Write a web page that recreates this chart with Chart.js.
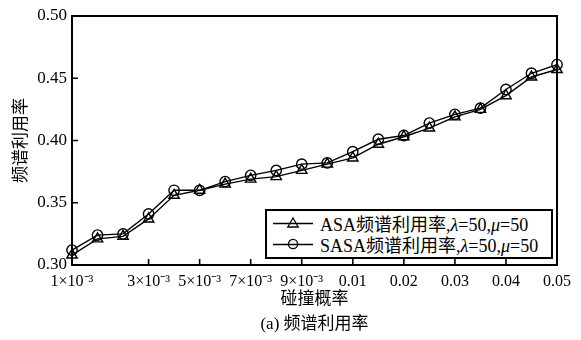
<!DOCTYPE html>
<html>
<head>
<meta charset="utf-8">
<script src="https://cdn.jsdelivr.net/npm/chart.js@4/dist/chart.umd.min.js"></script>
<style>
  html, body { margin: 0; padding: 0; background: #fff; }
  #wrap { position: relative; width: 581px; height: 340px; background: #fff; }
  #legend {
    position: absolute; left: 265px; top: 209px; width: 288px; height: 50px;
    box-sizing: border-box; border: 2px solid #000; background: #fff;
    padding-top: 1px;
    font-family: 'Liberation Serif', 'Noto Sans CJK SC', serif; font-size: 18px; color: #000;
  }
  #legend .row { display: flex; align-items: center; height: 21px; white-space: nowrap; }
  #legend svg { margin-left: 6px; margin-right: 7px; flex: none; }
</style>
</head>
<body>
<div id="wrap">
  <canvas id="c" width="581" height="340"></canvas>
  <div id="legend"></div>
</div>
<script>
// collision probability (category values along the x axis)
const collisionProb = ['0.001','0.0015','0.002','0.003','0.004','0.005','0.006','0.007','0.008','0.009',
                       '0.0095','0.01','0.015','0.02','0.025','0.03','0.035','0.04','0.045','0.05'];
// labels printed under the axis ('' = no label, no tick mark)
const xTickLabels = ['1×10⁻³','','','3×10⁻³','','5×10⁻³','','7×10⁻³','','9×10⁻³',
                     '','0.01','','0.02','','0.03','','0.04','','0.05'];
// spectrum utilisation of each scheme
const asaUtil  = [0.308,0.321,0.323,0.337,0.356,0.360,0.365,0.369,0.371,0.376,
                  0.381,0.386,0.397,0.403,0.410,0.419,0.425,0.436,0.451,0.457];
const sasaUtil = [0.312,0.324,0.325,0.341,0.360,0.360,0.367,0.372,0.376,0.381,
                  0.382,0.391,0.401,0.404,0.414,0.421,0.426,0.441,0.454,0.461];
const yTicks = [0.30, 0.35, 0.40, 0.45, 0.50];

const seriesNames = ['ASA频谱利用率', 'SASA频谱利用率'];
const FONT = "'Liberation Serif', 'Noto Sans CJK SC', serif";

// frame around the plot plus inward-pointing tick marks
const framePlugin = {
  id: 'frame',
  afterDatasetsDraw(chart) {
    const { ctx, chartArea: a, scales: { x, y } } = chart;
    ctx.save();
    ctx.strokeStyle = '#000';
    ctx.lineWidth = 1.6;
    ctx.beginPath();
    xTickLabels.forEach((lab, i) => {
      if (!lab) return;
      const px = x.getPixelForValue(i);
      ctx.moveTo(px, a.bottom);
      ctx.lineTo(px, a.bottom - 6);
    });
    yTicks.forEach(v => {
      const py = y.getPixelForValue(v);
      ctx.moveTo(a.left, py);
      ctx.lineTo(a.left + 6, py);
    });
    ctx.stroke();
    ctx.lineWidth = 2;
    ctx.strokeRect(a.left, a.top, a.right - a.left, a.bottom - a.top);
    ctx.restore();
  }
};

const common = {
  borderColor: '#000', borderWidth: 1.4,
  pointBorderColor: '#000', pointBackgroundColor: 'rgba(0,0,0,0)',
  pointBorderWidth: 1.4, tension: 0, clip: false
};

new Chart(document.getElementById('c'), {
  type: 'line',
  data: {
    labels: collisionProb,
    datasets: [
      Object.assign({ label: seriesNames[0], data: asaUtil, pointStyle: 'triangle', pointRadius: 6 }, common),
      Object.assign({ label: seriesNames[1], data: sasaUtil, pointStyle: 'circle', pointRadius: 5.2 }, common)
    ]
  },
  options: {
    responsive: false,
    animation: false,
    events: [],
    layout: { padding: { top: 16, right: 24, left: 0, bottom: 0 } },
    plugins: {
      legend: { display: false },
      tooltip: { enabled: false },
      title: {
        display: true, position: 'bottom', fullSize: false,
        text: '(a) 频谱利用率', color: '#000',
        font: { family: FONT, size: 17, weight: 'normal', lineHeight: 1.2 },
        padding: { top: 0, bottom: 5 }
      }
    },
    scales: {
      x: {
        type: 'category',
        offset: false,
        grid: { display: false, drawTicks: false },
        border: { display: false },
        ticks: {
          autoSkip: false, maxRotation: 0, minRotation: 0, padding: 7,
          color: '#000', font: { family: FONT, size: 16 },
          callback: (v, i) => xTickLabels[i]
        },
        title: {
          display: true, text: '碰撞概率', color: '#000',
          font: { family: FONT, size: 17, lineHeight: 1.2 },
          padding: { top: 0, bottom: 4.5 }
        },
        afterFit(scale) { scale.height = 49.6; }
      },
      y: {
        min: 0.30, max: 0.50,
        grid: { display: false, drawTicks: false },
        border: { display: false },
        afterBuildTicks(scale) { scale.ticks = yTicks.map(v => ({ value: v })); },
        ticks: {
          padding: 5, color: '#000', font: { family: FONT, size: 17 },
          callback: v => Number(v).toFixed(2)
        },
        title: {
          display: true, text: '频谱利用率', color: '#000',
          font: { family: FONT, size: 17, lineHeight: 1.2 },
          padding: { top: 11, bottom: 0 }
        },
        afterFit(scale) { scale.width = 72; }
      }
    }
  },
  plugins: [framePlugin]
});

// legend box with italic Greek parameters
const legend = document.getElementById('legend');
const markers = [
  '<polygon points="20,2 25.2,11 14.8,11" fill="none" stroke="#000" stroke-width="1.3"/>',
  '<circle cx="20" cy="7" r="4.6" fill="none" stroke="#000" stroke-width="1.3"/>'
];
seriesNames.forEach((name, i) => {
  const row = document.createElement('div');
  row.className = 'row';
  row.innerHTML =
    '<svg width="40" height="14" viewBox="0 0 40 14"><line x1="0" y1="7.5" x2="40" y2="7.5" stroke="#000" stroke-width="1.4"/>' +
    markers[i] + '</svg>' +
    '<span>' + name + ',<i>λ</i>=50,<i>μ</i>=50</span>';
  legend.appendChild(row);
});
</script>
</body>
</html>
